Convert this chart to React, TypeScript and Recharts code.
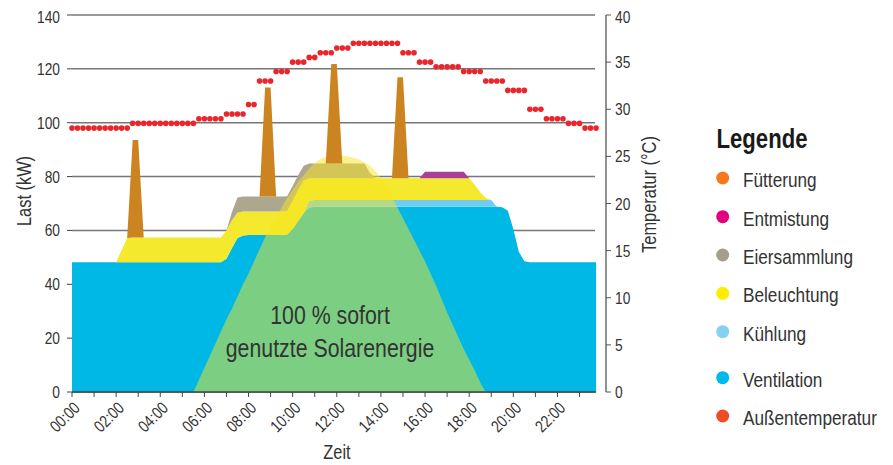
import React from 'react';
import { ComposedChart, Area, Scatter, XAxis, YAxis, CartesianGrid, ReferenceLine } from 'recharts';

const FONT = "'Liberation Sans', Arial, sans-serif";
const SX = 0.82; // horizontal condensing of the sans font
const TEXT = '#333333';
const TICK = 16.8;

// time grid: 15-minute steps, hours 0..23.75
const times: number[] = Array.from({ length: 96 }, (_, i) => i / 4);

const hourTicks = [0, 1, 2, 3, 4, 5, 6, 7, 8, 9, 10, 11, 12, 13, 14, 15, 16, 17, 18, 19, 20, 21, 22, 23];
const loadTicks = [0, 20, 40, 60, 80, 100, 120, 140];
const tempTicks = [0, 5, 10, 15, 20, 25, 30, 35, 40];

const ventilation = [
  48.2, 48.2, 48.2, 48.2, 48.2, 48.2, 48.2, 48.2, 48.2, 48.2, 48.2, 48.2,
  48.2, 48.2, 48.2, 48.2, 48.2, 48.2, 48.2, 48.2, 48.2, 48.2, 48.2, 48.2,
  48.2, 48.2, 48.2, 48.2, 49.5, 53.5, 57.2, 58.1, 58.3, 58.3, 58.3, 58.3,
  58.3, 58.3, 58.3, 58.5, 60.5, 63.5, 66.5, 68.5, 68.8, 68.8, 68.8, 68.8,
  68.8, 68.8, 68.8, 68.8, 68.8, 68.8, 68.8, 68.8, 68.8, 68.8, 68.8, 68.8,
  68.8, 68.8, 68.8, 68.8, 68.8, 68.8, 68.8, 68.8, 68.8, 68.8, 68.8, 68.8,
  68.8, 68.8, 68.8, 68.8, 68.8, 68.8, 68.6, 67.3, 60.5, 52, 48.6, 48.2,
  48.2, 48.2, 48.2, 48.2, 48.2, 48.2, 48.2, 48.2, 48.2, 48.2, 48.2, 48.2,
];

const kuehlung = [
  0, 0, 0, 0, 0, 0, 0, 0, 0, 0, 0, 0,
  0, 0, 0, 0, 0, 0, 0, 0, 0, 0, 0, 0,
  0, 0, 0, 0, 0, 0, 0, 0, 0, 0, 0, 0,
  0, 0, 0, 0, 0, 0, 0, 2.5, 2.5, 2.5, 2.5, 2.5,
  2.5, 2.5, 2.5, 2.5, 2.5, 2.5, 2.5, 2.5, 2.5, 2.5, 2.5, 2.5,
  2.5, 2.5, 2.5, 2.5, 2.5, 2.5, 2.5, 2.5, 2.5, 2.5, 2.5, 2.5,
  2.5, 2.5, 2.5, 2.5, 2.5, 0, 0, 0, 0, 0, 0, 0,
  0, 0, 0, 0, 0, 0, 0, 0, 0, 0, 0, 0,
];

const beleuchtung = [
  0, 0, 0, 0, 0, 0, 0, 0, 0, 4.5, 9, 9.2,
  9.2, 9.2, 9.2, 9.2, 9.2, 9.2, 9.2, 9.2, 9.2, 9.2, 9.2, 9.2,
  9.2, 9.2, 9.2, 9.2, 10.5, 10.3, 9.4, 8.9, 8.7, 8.7, 8.7, 8.7,
  8.7, 8.7, 8.7, 8.7, 10.5, 11.5, 12, 8.4, 8.1, 8.1, 8.1, 8.1,
  8.1, 8.1, 8.1, 8.1, 8.1, 8.1, 8.1, 8.1, 8.1, 8.1, 8.1, 8.1,
  8.1, 8.1, 8.1, 8.1, 8.1, 8.1, 8.1, 8.1, 8.1, 8.1, 8.1, 8.1,
  8.1, 5.7, 2.9, 0.7, 0, 0, 0, 0, 0, 0, 0, 0,
  0, 0, 0, 0, 0, 0, 0, 0, 0, 0, 0, 0,
];

const eiersammlung = [
  0, 0, 0, 0, 0, 0, 0, 0, 0, 0, 0, 0,
  0, 0, 0, 0, 0, 0, 0, 0, 0, 0, 0, 0,
  0, 0, 0, 0, 0, 3, 5.6, 5.6, 5.6, 5.6, 5.6, 5.6,
  5.6, 5.6, 5.6, 5.5, 5.5, 5.5, 5.5, 5.5, 5.5, 5.5, 5.5, 5.5,
  5.5, 5.5, 5.5, 5.5, 5.5, 5.5, 2, 0, 0, 0, 0, 0,
  0, 0, 0, 0, 0, 0, 0, 0, 0, 0, 0, 0,
  0, 0, 0, 0, 0, 0, 0, 0, 0, 0, 0, 0,
  0, 0, 0, 0, 0, 0, 0, 0, 0, 0, 0, 0,
];

const entmistung = [
  0, 0, 0, 0, 0, 0, 0, 0, 0, 0, 0, 0,
  0, 0, 0, 0, 0, 0, 0, 0, 0, 0, 0, 0,
  0, 0, 0, 0, 0, 0, 0, 0, 0, 0, 0, 0,
  0, 0, 0, 0, 0, 0, 0, 0, 0, 0, 0, 0,
  0, 0, 0, 0, 0, 0, 0, 0, 0, 0, 0, 0,
  0, 0, 0, 0, 2.4, 2.4, 2.4, 2.4, 2.4, 2.4, 2.4, 2.4,
  0, 0, 0, 0, 0, 0, 0, 0, 0, 0, 0, 0,
  0, 0, 0, 0, 0, 0, 0, 0, 0, 0, 0, 0,
];

const fuetterung = [
  0, 0, 0, 0, 0, 0, 0, 0, 0, 0, 0, 36.2,
  36.2, 0, 0, 0, 0, 0, 0, 0, 0, 0, 0, 0,
  0, 0, 0, 0, 0, 0, 0, 0, 0, 0, 0, 40.5,
  40.5, 0, 0, 0, 0, 0, 0, 0, 0, 0, 0, 36.9,
  36.9, 0, 0, 0, 0, 0, 0, 0, 0, 0, 0, 37.5,
  37.5, 0, 0, 0, 0, 0, 0, 0, 0, 0, 0, 0,
  0, 0, 0, 0, 0, 0, 0, 0, 0, 0, 0, 0,
  0, 0, 0, 0, 0, 0, 0, 0, 0, 0, 0, 0,
];

const solar = [
  0, 0, 0, 0, 0, 0, 0, 0, 0, 0, 0, 0,
  0, 0, 0, 0, 0, 0, 0, 0, 0, 0, 0, 4.5,
  9, 13.5, 18, 22.5, 27, 31, 35.5, 40, 44, 48.5, 53, 57.5,
  61.5, 65, 68.5, 72, 75, 78, 80.5, 83, 85, 86.5, 87.3, 87.8,
  88, 87.8, 87.5, 87, 86.3, 85.3, 84, 82, 79.5, 76.5, 72.5, 68.5,
  64.5, 60.5, 56.5, 52.5, 48.5, 44, 39.5, 34.5, 29.5, 25, 20.5, 16,
  12, 8, 3.5, 0, 0, 0, 0, 0, 0, 0, 0, 0,
  0, 0, 0, 0, 0, 0, 0, 0, 0, 0, 0, 0,
];

const aussentemperatur = [
  28, 28, 28, 28, 28, 28, 28, 28, 28, 28, 28, 28.5,
  28.5, 28.5, 28.5, 28.5, 28.5, 28.5, 28.5, 28.5, 28.5, 28.5, 28.5, 29,
  29, 29, 29, 29, 29.5, 29.5, 29.5, 29.5, 30.5, 30.5, 33, 33,
  33, 34, 34, 34, 35, 35, 35, 35.5, 35.5, 36, 36, 36,
  36.5, 36.5, 36.5, 37, 37, 37, 37, 37, 37, 37, 37, 37,
  36, 36, 36, 35, 35, 35, 34.5, 34.5, 34.5, 34.5, 34.5, 34,
  34, 34, 34, 33, 33, 33, 33, 32, 32, 32, 32, 30,
  30, 30, 29, 29, 29, 29, 28.5, 28.5, 28.5, 28, 28, 28,
];

const legendItems = [
  { name: 'Fütterung', color: '#F47A20' },
  { name: 'Entmistung', color: '#E5007E' },
  { name: 'Eiersammlung', color: '#A59E8E' },
  { name: 'Beleuchtung', color: '#FFED00' },
  { name: 'Kühlung', color: '#86D0F0' },
  { name: 'Ventilation', color: '#00B9EB' },
  { name: 'Außentemperatur', color: '#EE4D26' },
];
const legendY = [178, 216.7, 255, 293.3, 331.7, 377.7, 416];

// condensed text helper
const NText = ({ x, y, size, anchor = 'start', rotate = 0, weight = 'normal', fill = TEXT, children }: any) => (
  <text x={0} y={0} fontFamily={FONT} fontSize={size} fontWeight={weight} fill={fill} textAnchor={anchor}
    transform={`translate(${x}, ${y}) rotate(${rotate}) scale(${SX}, 1)`}>{children}</text>
);

const XTick = (props: any) => {
  const { x, y, payload } = props;
  const h = payload.value as number;
  if (h % 2 !== 0) return <g />;
  const label = (h < 10 ? '0' : '') + h + ':00';
  return <NText x={x + 9} y={y + 10} size={TICK} anchor="end" rotate={-45}>{label}</NText>;
};

const LeftTick = (props: any) => {
  const { x, y, payload } = props;
  return <NText x={x} y={y + 6} size={TICK} anchor="end">{payload.value}</NText>;
};

const RightTick = (props: any) => {
  const { x, y, payload } = props;
  return <NText x={x} y={y + 6} size={TICK} anchor="start">{payload.value}</NText>;
};

export default function App() {
  const data = times.map((t, i) => ({
    t,
    ventilation: ventilation[i],
    kuehlung: kuehlung[i],
    beleuchtung: beleuchtung[i],
    eiersammlung: eiersammlung[i],
    entmistung: entmistung[i],
    fuetterung: fuetterung[i],
    solar: solar[i],
  }));
  const tempData = times.map((t, i) => ({ t, temp: aussentemperatur[i] }));

  return (
    <div style={{ position: 'relative', width: 885, height: 457 }}>
      <ComposedChart width={885} height={457} data={data}
        margin={{ top: 7, right: 227, bottom: 0, left: 0 }}>
        <CartesianGrid vertical={false} yAxisId="left" stroke="#777" strokeWidth={1.5} x={64} width={523} />
        <XAxis dataKey="t" type="number" domain={[0, 24.2]} ticks={hourTicks} interval={0}
          axisLine={false} tickLine={{ stroke: '#444' }} tickSize={5} tickMargin={2}
          height={73} tick={<XTick />} />
        <YAxis yAxisId="left" domain={[0, 140]} ticks={loadTicks} width={64}
          axisLine={false} tickLine={{ stroke: '#444' }} tickSize={5} tickMargin={7}
          tick={<LeftTick />} />
        <YAxis yAxisId="right" orientation="right" domain={[0, 40]} ticks={tempTicks} width={60}
          axisLine={{ stroke: '#555', strokeWidth: 1.3 }} tickLine={{ stroke: '#555' }} tickSize={5} tickMargin={4}
          tick={<RightTick />} />
        <Area yAxisId="left" type="linear" dataKey="ventilation" stackId="load" stroke="none" fill="#00B8E5" fillOpacity={1} isAnimationActive={false} />
        <Area yAxisId="left" type="linear" dataKey="kuehlung" stackId="load" stroke="none" fill="#6FCDF2" fillOpacity={1} isAnimationActive={false} />
        <Area yAxisId="left" type="linear" dataKey="beleuchtung" stackId="load" stroke="none" fill="#F4E92C" fillOpacity={1} isAnimationActive={false} />
        <Area yAxisId="left" type="linear" dataKey="eiersammlung" stackId="load" stroke="none" fill="#ADA78E" fillOpacity={1} isAnimationActive={false} />
        <Area yAxisId="left" type="linear" dataKey="entmistung" stackId="load" stroke="none" fill="#A8409A" fillOpacity={1} isAnimationActive={false} />
        <Area yAxisId="left" type="linear" dataKey="solar" stroke="none" fill="#F7E620" fillOpacity={0.5} isAnimationActive={false} />
        <Area yAxisId="left" type="linear" dataKey="fuetterung" stackId="load" stroke="none" fill="#CB841F" fillOpacity={1} isAnimationActive={false} />
        <ReferenceLine yAxisId="left" segment={[{ x: 0, y: 0 }, { x: 23.75, y: 0 }]} stroke="#444" strokeWidth={1.5} ifOverflow="visible" />
        <Scatter yAxisId="right" data={tempData} dataKey="temp" isAnimationActive={false}
          shape={(p: any) => <circle cx={p.cx} cy={p.cy} r={2.8} fill="#E8262C" />} />
      </ComposedChart>
      <svg width={893} height={465} style={{ position: 'absolute', left: -8, top: -8, pointerEvents: 'none' }}>
        <NText x={31} y={191} size={20} anchor="middle" rotate={-90}>Last (kW)</NText>
        <NText x={656} y={194.5} size={20} anchor="middle" rotate={-90}>Temperatur (°C)</NText>
        <NText x={337} y={459} size={20} anchor="middle">Zeit</NText>
        <NText x={330} y={324} size={26} anchor="middle">100 % sofort</NText>
        <NText x={330} y={357} size={26} anchor="middle">genutzte Solarenergie</NText>
        <NText x={716.5} y={148} size={27} weight="bold" fill="#1a1a1a">Legende</NText>
        {legendItems.map((it, i) => (
          <g key={it.name}>
            <circle cx={722.7} cy={legendY[i]} r={6.5} fill={it.color} />
            <NText x={743} y={legendY[i] + 9} size={21}>{it.name}</NText>
          </g>
        ))}
      </svg>
    </div>
  );
}
